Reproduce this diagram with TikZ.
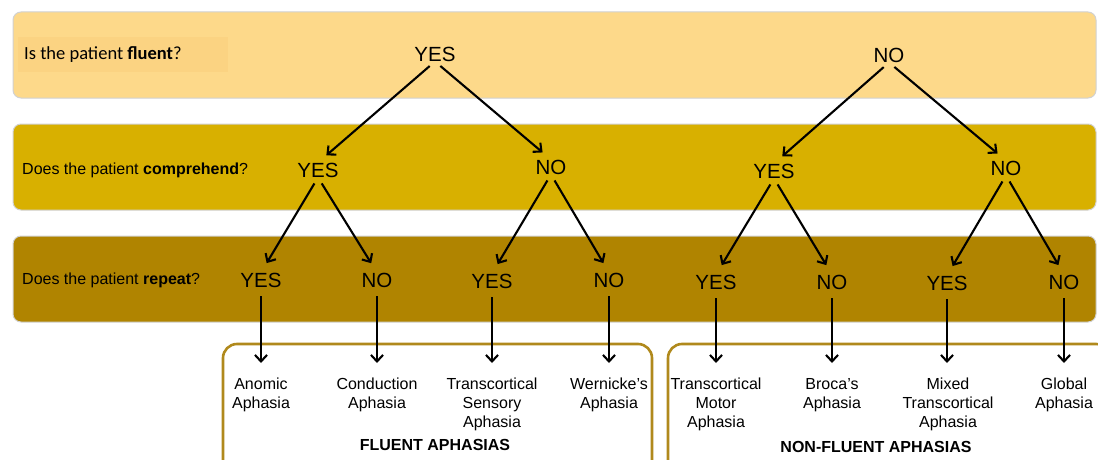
\documentclass[tikz,border=0pt]{standalone}
\usepackage{fontspec}
\setmainfont{Liberation Sans}
\newfontfamily\calfont{Carlito}
\usetikzlibrary{arrows.meta}
\definecolor{bandA}{HTML}{FDD98A}
\definecolor{bandAdark}{HTML}{FBD382}
\definecolor{bandB}{HTML}{D8B000}
\definecolor{bandC}{HTML}{B08400}
\definecolor{boxline}{HTML}{B0891C}
\begin{document}
\begin{tikzpicture}[x=1pt,y=-1pt,
  band/.style={draw=black!18, line width=1pt, rounded corners=8pt},
  grp/.style={draw=boxline, line width=2.6pt, rounded corners=14pt, fill=white},
  ans/.style={inner sep=0pt, font=\fontsize{20.5}{23}\selectfont},
  ques/.style={inner sep=0pt, anchor=west, font=\fontsize{16}{19}\selectfont},
  leaf/.style={inner sep=0pt, anchor=north, align=center, font=\fontsize{16}{19}\selectfont},
  grplabel/.style={inner sep=0pt, font=\bfseries\fontsize{16}{19}\selectfont},
  arr/.style={line width=2.1pt, -{Straight Barb[length=6.5pt,width=12pt,line width=2.1pt]}},
  darr/.style={arr, shorten <=7pt, shorten >=11pt},
  varr/.style={arr, shorten <=9pt, shorten >=15pt}]
\useasboundingbox (0,0) rectangle (1098,460);
\clip (0,0) rectangle (1098,460);
% bands
\path[band, fill=bandA] (13,12) rectangle (1096,98);
\path[band, fill=bandB] (13,124) rectangle (1096,210);
\path[band, fill=bandC] (13,236) rectangle (1096,322);
\fill[bandAdark] (18,37) rectangle (228,72);
% group boxes
\path[grp] (223,344) rectangle (652,480);
\path[grp] (668,344) rectangle (1110,480);
% questions
\node[ques, font=\calfont\fontsize{18.5}{21}\selectfont] (q1) at (24,55) {Is the patient \textbf{fluent}?};
\node[ques] (q2) at (22,170) {Does the patient \textbf{comprehend}?};
\node[ques] (q3) at (22,280) {Does the patient \textbf{repeat}?};
% level 1
\node[ans] (a) at (435,54) {YES};
\node[ans] (b) at (889,55) {NO};
% level 2
\node[ans] (aa) at (318,170) {YES};
\node[ans] (ab) at (551,167) {NO};
\node[ans] (ba) at (774,171) {YES};
\node[ans] (bb) at (1006,168) {NO};
% level 3
\node[ans] (aaa) at (261,280) {YES};
\node[ans] (aab) at (377,280) {NO};
\node[ans] (aba) at (492,281) {YES};
\node[ans] (abb) at (609,280) {NO};
\node[ans] (baa) at (716,282) {YES};
\node[ans] (bab) at (832,282) {NO};
\node[ans] (bba) at (947,283) {YES};
\node[ans] (bbb) at (1064,282) {NO};
% leaves
\node[leaf] (l1) at (261,378) {Anomic\\Aphasia};
\node[leaf] (l2) at (377,378) {Conduction\\Aphasia};
\node[leaf] (l3) at (492,378) {Transcortical\\Sensory\\Aphasia};
\node[leaf] (l4) at (609,378) {Wernicke’s\\Aphasia};
\node[leaf] (l5) at (716,378) {Transcortical\\Motor\\Aphasia};
\node[leaf] (l6) at (832,378) {Broca’s\\Aphasia};
\node[leaf] (l7) at (948,378) {Mixed\\Transcortical\\Aphasia};
\node[leaf] (l8) at (1064,378) {Global\\Aphasia};
\node[grplabel] (g1) at (435,445) {FLUENT APHASIAS};
\node[grplabel] (g2) at (876,447) {NON-FLUENT APHASIAS};
% arrows
\foreach \p/\c in {a/aa,a/ab,b/ba,b/bb,aa/aaa,aa/aab,ab/aba,ab/abb,ba/baa,ba/bab,bb/bba,bb/bbb}
  \draw[darr] (\p.south) -- (\c.north);
\foreach \p/\c in {aaa/l1,aab/l2,aba/l3,abb/l4,baa/l5,bab/l6,bba/l7,bbb/l8}
  \draw[varr] (\p.south) -- (\p.south |- \c.north);
\end{tikzpicture}
\end{document}
